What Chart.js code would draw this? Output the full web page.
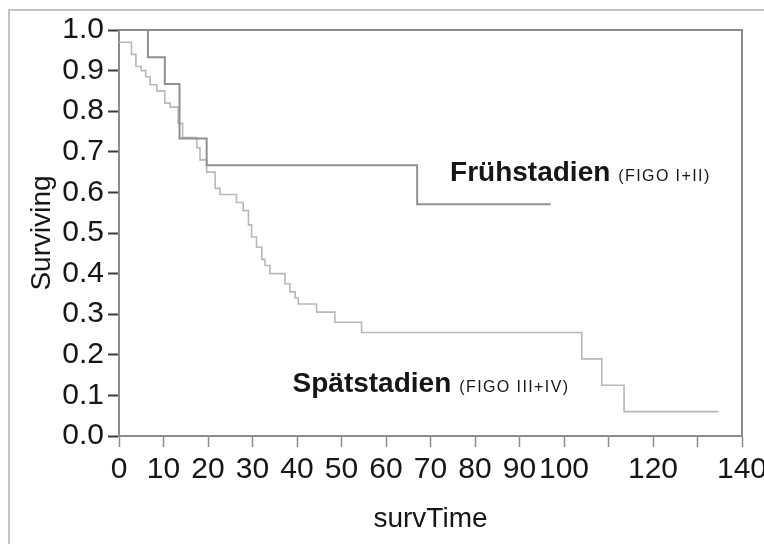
<!DOCTYPE html>
<html>
<head>
<meta charset="utf-8">
<script src="https://cdn.jsdelivr.net/npm/chart.js@4"></script>
<style>
  html, body { margin: 0; padding: 0; background: #fff; }
  #wrap { width: 764px; height: 544px; position: relative; }
</style>
</head>
<body>
<div id="wrap"><canvas id="km" width="764" height="544"></canvas></div>
<script>
// Kaplan-Meier Schätzer: Zeitpunkt des Ereignisses und Überleben danach
const fruehTime = [0, 6.5, 10.3, 13.6, 19.7, 67.0, 97.0];
const fruehSurv = [1.0, 0.933, 0.867, 0.733, 0.667, 0.571, 0.571];

const spaetTime = [0, 2.8, 3.8, 5.0, 6.0, 7.0, 8.5, 10.3, 11.5, 13.3, 14.3, 17.5, 18.2, 19.7,
  21.6, 22.7, 26.4, 27.9, 29.1, 29.8, 30.9, 32.1, 32.8, 33.9, 37.3, 38.4, 39.6, 40.3,
  44.4, 48.5, 54.5, 104.0, 108.5, 113.5, 134.7];
const spaetSurv = [0.97, 0.94, 0.91, 0.90, 0.885, 0.865, 0.85, 0.82, 0.81, 0.77, 0.735, 0.71, 0.68, 0.65,
  0.61, 0.595, 0.575, 0.555, 0.52, 0.49, 0.465, 0.435, 0.42, 0.40, 0.375, 0.355, 0.34, 0.325,
  0.305, 0.28, 0.255, 0.19, 0.125, 0.06, 0.06];

// Achsen
const xTicks = [0, 10, 20, 30, 40, 50, 60, 70, 80, 90, 100, 110, 120, 130, 140];
const xHidden = [110, 130];
const yTicks = [0, 0.1, 0.2, 0.3, 0.4, 0.5, 0.6, 0.7, 0.8, 0.9, 1.0];

function toPoints(xs, ys) {
  return xs.map((x, i) => ({ x: x, y: ys[i] }));
}

const textColor = '#161616';
const axisGrey = '#8c8c8c';

// Rahmen, Beschriftungen der Kurven und Achsentitel
const decorPlugin = {
  id: 'decor',
  beforeDraw(chart) {
    const ctx = chart.ctx;
    ctx.save();
    ctx.strokeStyle = '#c4c4c4';
    ctx.lineWidth = 2;
    ctx.beginPath();
    ctx.moveTo(9, 544);
    ctx.lineTo(9, 10);
    ctx.lineTo(764, 10);
    ctx.stroke();
    ctx.restore();
  },
  afterDraw(chart) {
    const ctx = chart.ctx;
    const a = chart.chartArea;
    const xs = chart.scales.x, ys = chart.scales.y;
    ctx.save();
    // obere und rechte Begrenzung
    ctx.strokeStyle = axisGrey;
    ctx.lineWidth = 2;
    ctx.beginPath();
    ctx.moveTo(a.left, a.top);
    ctx.lineTo(a.right, a.top);
    ctx.lineTo(a.right, a.bottom);
    ctx.stroke();

    ctx.fillStyle = textColor;
    ctx.textBaseline = 'alphabetic';
    ctx.textAlign = 'left';

    function label(main, sub, tx, sy) {
      let px = xs.getPixelForValue(tx);
      const py = ys.getPixelForValue(sy);
      ctx.font = 'bold 28px "Liberation Sans", Arial, sans-serif';
      ctx.letterSpacing = '0px';
      ctx.fillText(main, px, py);
      px += ctx.measureText(main).width + 8;
      ctx.font = '16px "Liberation Sans", Arial, sans-serif';
      ctx.letterSpacing = '1.4px';
      ctx.fillText(sub, px, py);
      ctx.letterSpacing = '0px';
    }
    label('Frühstadien', '(FIGO I+II)', 74.4, 0.627);
    label('Spätstadien', '(FIGO III+IV)', 39.0, 0.109);

    ctx.font = '28px "Liberation Sans", Arial, sans-serif';
    ctx.textAlign = 'center';
    ctx.fillText('survTime', (a.left + a.right) / 2, 527);

    ctx.translate(50, (a.top + a.bottom) / 2);
    ctx.rotate(-Math.PI / 2);
    ctx.fillText('Surviving', 0, 0);
    ctx.restore();
  }
};

const tickFont = { family: '"Liberation Sans", Arial, sans-serif', size: 30 };

new Chart(document.getElementById('km'), {
  type: 'line',
  data: {
    datasets: [
      {
        label: 'Frühstadien (FIGO I+II)',
        data: toPoints(fruehTime, fruehSurv),
        stepped: 'before',
        borderColor: '#909090',
        borderWidth: 2,
        pointRadius: 0,
        fill: false
      },
      {
        label: 'Spätstadien (FIGO III+IV)',
        data: toPoints(spaetTime, spaetSurv),
        stepped: 'before',
        borderColor: '#b8b8b8',
        borderWidth: 1.6,
        pointRadius: 0,
        fill: false
      }
    ]
  },
  options: {
    responsive: false,
    animation: false,
    layout: { padding: { top: 30, right: 22, left: 0, bottom: 0 } },
    plugins: {
      legend: { display: false },
      tooltip: { enabled: false }
    },
    scales: {
      x: {
        type: 'linear',
        min: 0,
        max: 140,
        afterBuildTicks(scale) {
          scale.ticks = xTicks.map(v => ({ value: v }));
        },
        afterFit(scale) {
          scale.height = 108;
          scale.paddingLeft = 0;
          scale.paddingRight = 0;
        },
        ticks: {
          autoSkip: false,
          maxRotation: 0,
          padding: 5,
          color: textColor,
          font: tickFont,
          callback: v => xHidden.includes(v) ? '' : String(v)
        },
        grid: {
          drawOnChartArea: false,
          tickLength: 11,
          tickColor: axisGrey,
          tickWidth: 1.5
        },
        border: { color: axisGrey, width: 2 }
      },
      y: {
        type: 'linear',
        min: 0,
        max: 1,
        afterBuildTicks(scale) {
          scale.ticks = yTicks.map(v => ({ value: v }));
        },
        afterFit(scale) {
          scale.width = 119;
          scale.paddingTop = 0;
          scale.paddingBottom = 0;
        },
        ticks: {
          padding: 4,
          color: textColor,
          font: tickFont,
          callback: v => v.toFixed(1)
        },
        grid: {
          drawOnChartArea: false,
          tickLength: 11,
          tickColor: '#3a3a3a',
          tickWidth: 2
        },
        border: { color: axisGrey, width: 2 }
      }
    }
  },
  plugins: [decorPlugin]
});
</script>
</body>
</html>
